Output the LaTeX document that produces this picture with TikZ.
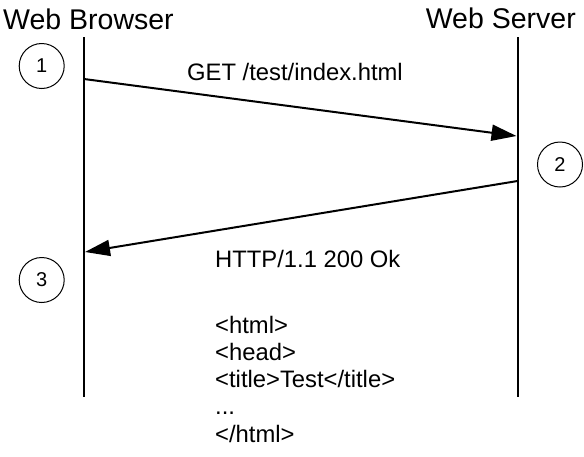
\documentclass[tikz,border=0pt]{standalone}
\usepackage{fontspec}
\setmainfont{Liberation Sans}
\usetikzlibrary{arrows.meta}
\begin{document}
\begin{tikzpicture}[x=1pt,y=-1pt,
  life/.style={line width=2pt},
  msg/.style={line width=2pt,-{Triangle[length=25pt,width=16pt]}},
  stepnum/.style={circle,draw,line width=1pt,minimum size=45pt,inner sep=0pt,font=\fontsize{20}{24}\selectfont},
  title/.style={font=\fontsize{28.5}{34}\selectfont,inner sep=0pt},
  lbl/.style={font=\fontsize{23.8}{28}\selectfont,inner sep=0pt}]
\useasboundingbox (0,0) rectangle (584,456);
\node[title,anchor=base west] (wb) at (3,29) {Web Browser};
\node[title,anchor=base east] (ws) at (576,28) {Web Server};
\coordinate (bt) at (84,37); \coordinate (bb) at (84,397);
\coordinate (st) at (517.5,37); \coordinate (sb) at (517.5,397);
\draw[life] (bt) -- (bb);
\draw[life] (st) -- (sb);
\coordinate (m1a) at (84,79); \coordinate (m1b) at (516.5,136);
\coordinate (m2a) at (517.5,181); \coordinate (m2b) at (85,252);
\draw[msg] (m1a) -- (m1b);
\draw[msg] (m2a) -- (m2b);
\node[stepnum] (c1) at (41.7,66) {1};
\node[stepnum] (c2) at (560,164.5) {2};
\node[stepnum] (c3) at (41.7,280) {3};
\node[lbl,anchor=base west] (get) at (187,80) {GET /test/index.html};
\node[lbl,anchor=base west] (http) at (215,267) {HTTP/1.1 200 Ok};
\node[lbl,anchor=base west] (l1) at (215,333) {<html>};
\node[lbl,anchor=base west] (l2) at (215,360) {<head>};
\node[lbl,anchor=base west] (l3) at (215,387) {<title>Test</title>};
\node[lbl,anchor=base west] (l4) at (215,414) {...};
\node[lbl,anchor=base west] (l5) at (215,442) {</html>};
\end{tikzpicture}
\end{document}
